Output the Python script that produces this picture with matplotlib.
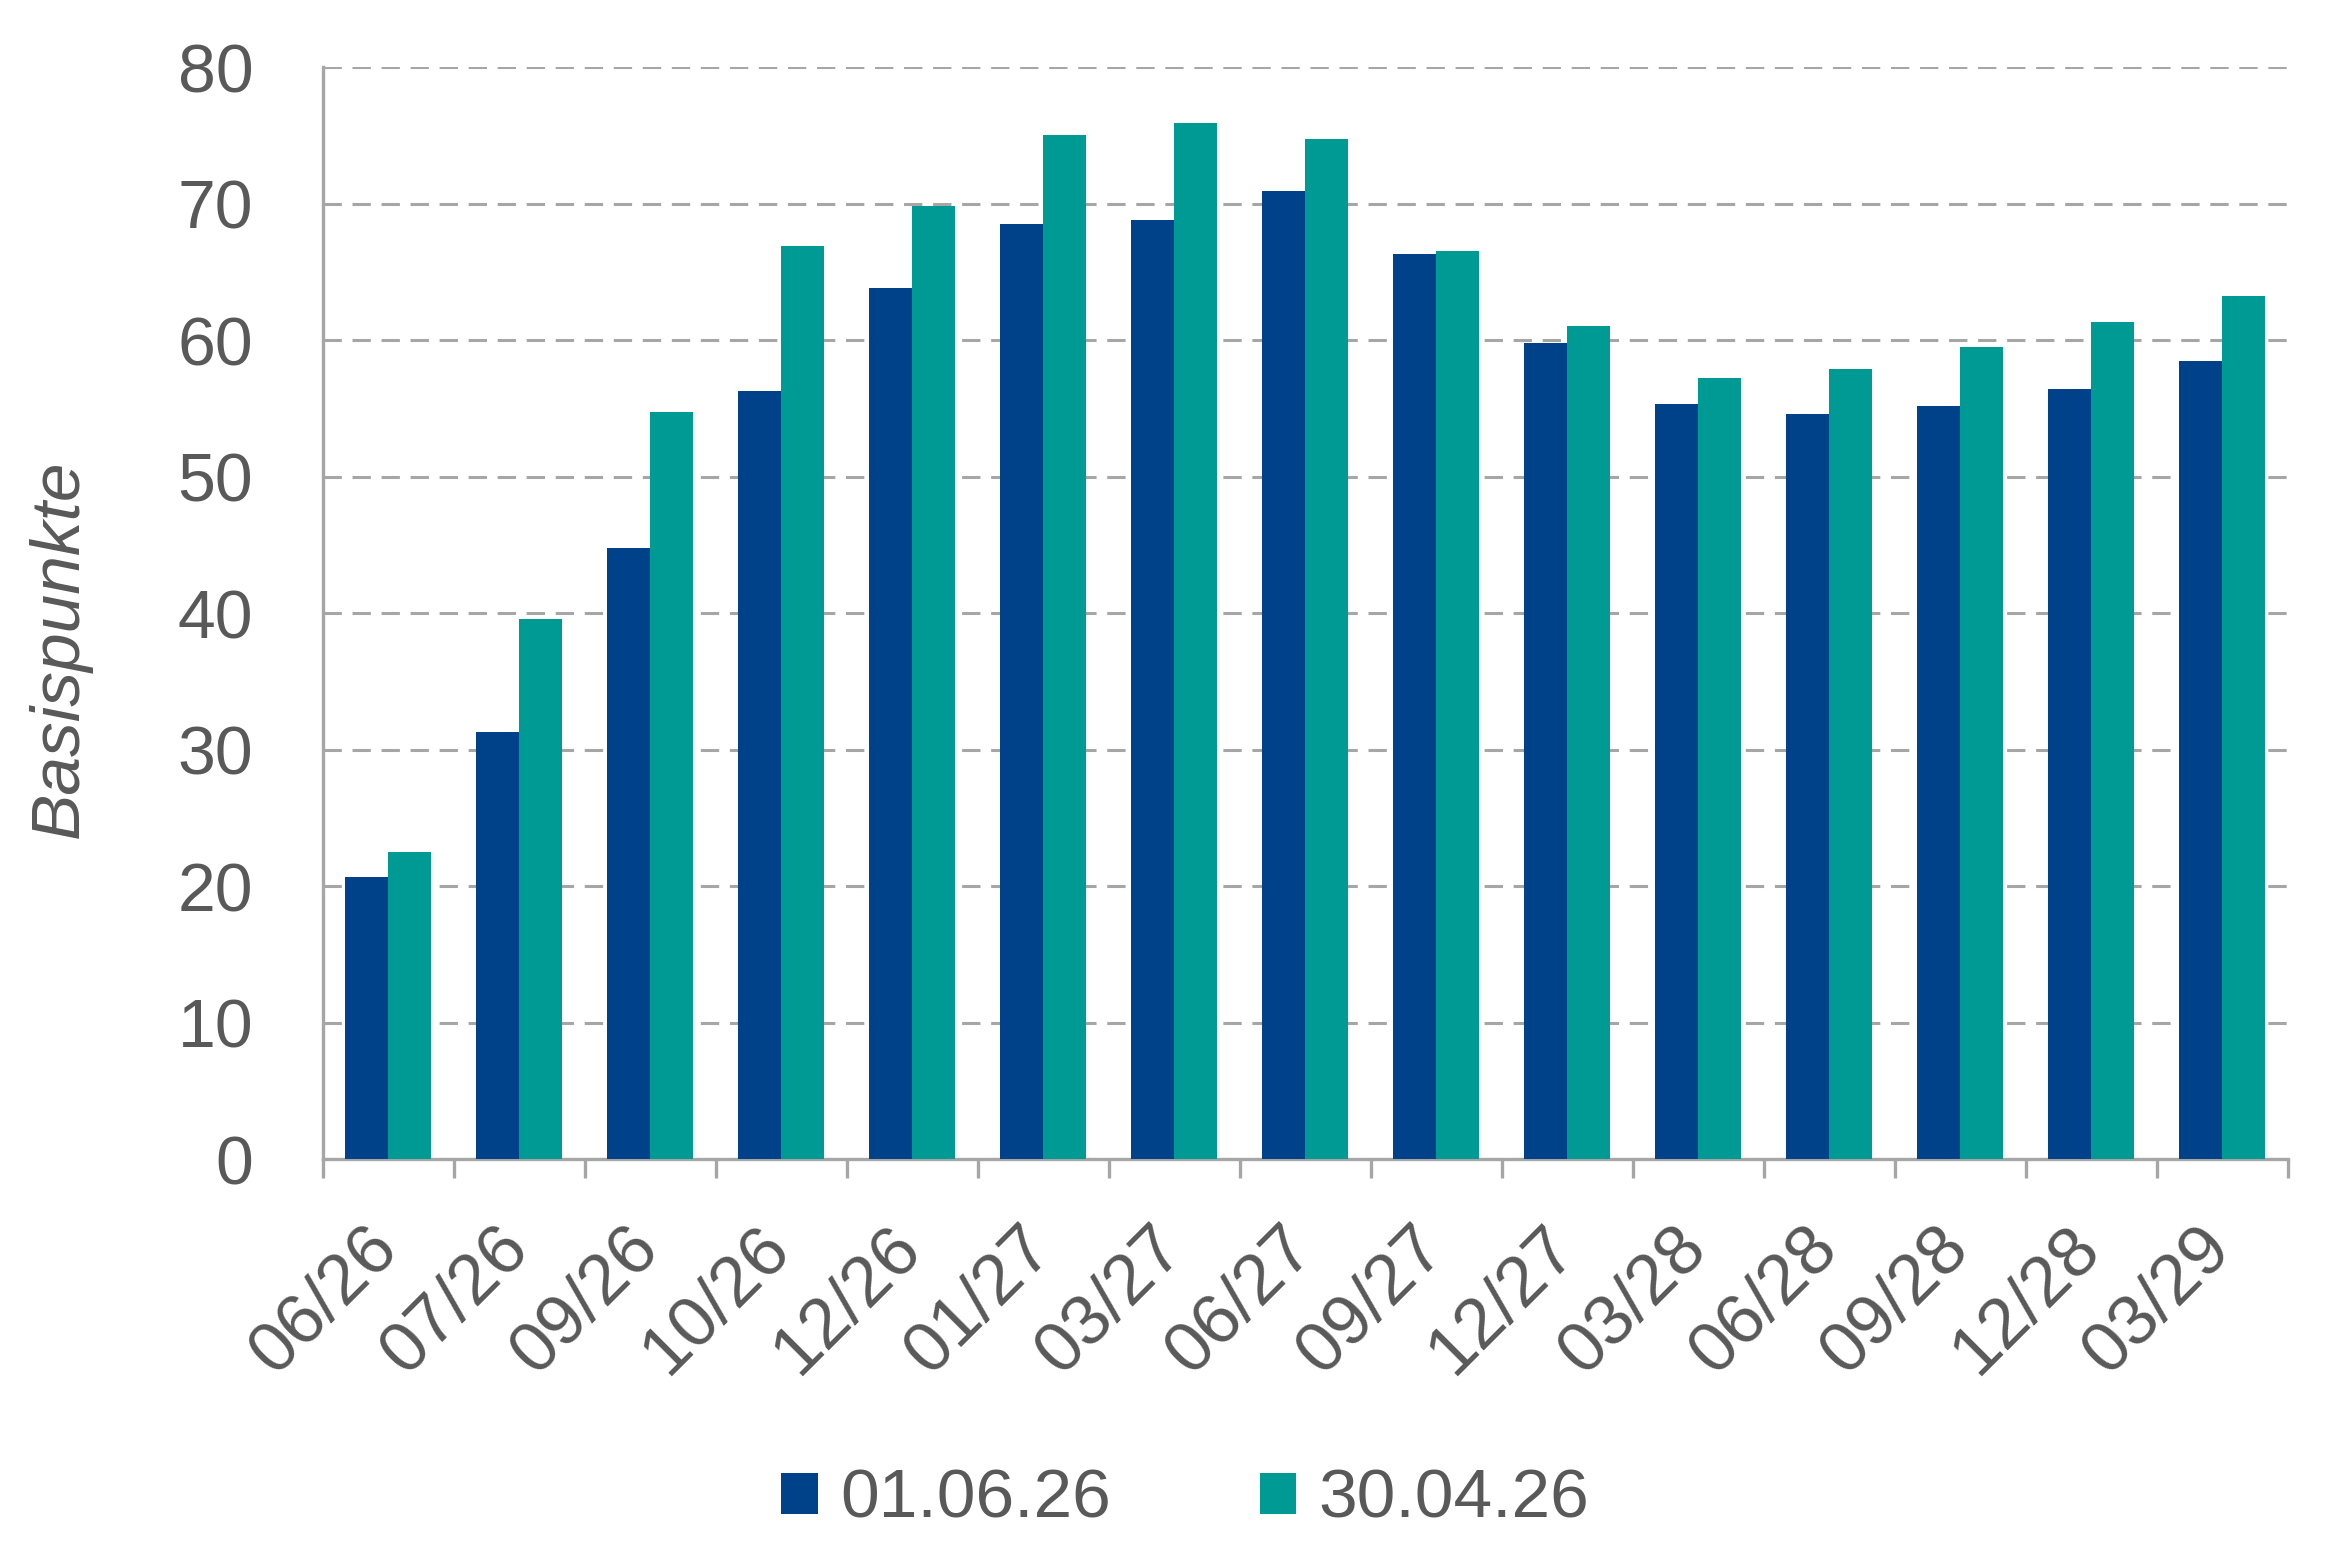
import matplotlib
matplotlib.use("Agg")
import matplotlib.pyplot as plt
import matplotlib.transforms as mtransforms
import numpy as np
from matplotlib.patches import Patch

categories = ["06/26", "07/26", "09/26", "10/26", "12/26", "01/27", "03/27", "06/27",
              "09/27", "12/27", "03/28", "06/28", "09/28", "12/28", "03/29"]
series_names = ["01.06.26", "30.04.26"]
vals_0106 = [20.7, 31.3, 44.8, 56.3, 63.8, 68.5, 68.8, 70.9, 66.3, 59.8, 55.3, 54.6, 55.2, 56.4, 58.5]
vals_3004 = [22.5, 39.6, 54.7, 66.9, 69.8, 75.0, 75.9, 74.7, 66.5, 61.0, 57.2, 57.9, 59.5, 61.3, 63.2]
colors = ["#004289", "#009A94"]
yticks = [0, 10, 20, 30, 40, 50, 60, 70, 80]

plt.rcParams['font.family'] = ['Liberation Sans', 'DejaVu Sans']
text_color = "#595959"
grid_color = "#A6A6A6"

fig = plt.figure(figsize=(23.39, 15.60), dpi=100)
ax = fig.add_axes([0.138, 0.257, 0.840, 0.700])

x = np.arange(len(categories))
w = 0.33
ax.bar(x - w / 2, vals_0106, width=w, color=colors[0], edgecolor="none", zorder=3)
ax.bar(x + w / 2, vals_3004, width=w, color=colors[1], edgecolor="none", zorder=3)

ax.set_xlim(-0.5, len(categories) - 0.5)
ax.set_ylim(0, 80)
ax.set_yticks(yticks)
ax.set_yticklabels([str(v) for v in yticks])
ax.yaxis.grid(True, linestyle=(0, (6, 3.5)), color=grid_color, linewidth=2.2, zorder=0)
ax.set_axisbelow(True)

for s in ["top", "right"]:
    ax.spines[s].set_visible(False)
for s in ["left", "bottom"]:
    ax.spines[s].set_color(grid_color)
    ax.spines[s].set_linewidth(2.4)

ax.tick_params(axis="y", length=0, pad=50, labelsize=49, labelcolor=text_color)
ax.set_xticks(x)
ax.set_xticklabels(categories, rotation=45, ha="right", rotation_mode="default")
ax.tick_params(axis="x", which="major", length=0, pad=40, labelsize=51, labelcolor=text_color)
offset = mtransforms.ScaledTranslation(0.22, 0, fig.dpi_scale_trans)
for lab in ax.get_xticklabels():
    lab.set_transform(lab.get_transform() + offset)
ax.set_xticks(np.arange(-0.5, len(categories), 1.0), minor=True)
ax.tick_params(axis="x", which="minor", length=14, width=2.4, color=grid_color, direction="out")

fig.text(60 / 2339, 1 - 649 / 1560, "Basispunkte", rotation=90, ha="center", va="center",
         fontsize=50, style="italic", color=text_color)

handles = [Patch(facecolor=colors[0], edgecolor="none"), Patch(facecolor=colors[1], edgecolor="none")]
leg = fig.legend(handles, series_names, loc="center", bbox_to_anchor=(0.5067, 1 - 1500 / 1560),
                 ncol=2, frameon=False, fontsize=50, handlelength=0.52, handleheight=0.52,
                 handletextpad=0.32, columnspacing=2.15, labelcolor=text_color,
                 borderpad=0, borderaxespad=0)

fig.savefig("out.png", dpi=100)
